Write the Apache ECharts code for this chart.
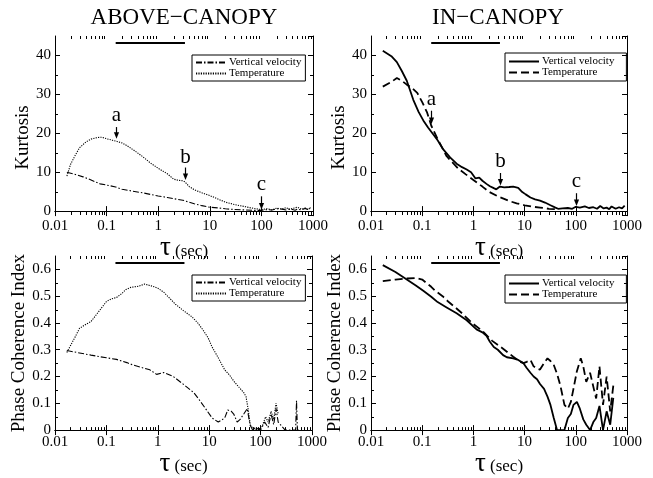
<!DOCTYPE html>
<html><head><meta charset="utf-8">
<script src="https://cdn.jsdelivr.net/npm/echarts@6/dist/echarts.min.js"></script>
<style>html,body{margin:0;padding:0;background:#fff}#c{width:653px;height:478px}</style>
</head><body><div id="c"></div><script>
// ---------- DATA ----------
const PANEL_TITLES = ['ABOVE\u2212CANOPY', 'IN\u2212CANOPY'];
const Y_NAMES = ['Kurtosis', 'Kurtosis', 'Phase Coherence Index', 'Phase Coherence Index'];
const LEGEND_LABELS = ['Vertical velocity', 'Temperature'];
const ANN_LABELS = ['a', 'b', 'c'];

// Above-canopy kurtosis
const AK_VV_TAU = [0.017,0.025,0.035,0.05,0.075,0.1,0.15,0.2,0.3,0.5,0.7,1,1.5,2,3,4,5,7,10,15,20,30,50,70,100,130,160,200,250,300,350,400,450,500,600,700,800,900];
const AK_VV = [10,9.4,8.8,8.0,7.0,6.7,6.2,5.6,5.2,4.7,4.3,3.9,3.5,3.2,2.8,2.3,1.9,1.4,1.0,0.8,0.6,0.4,0.3,0.2,0.2,0.4,0.3,0.6,0.5,0.3,0.6,0.4,0.2,0.5,0.3,0.7,0.4,0.9];
const AK_T_TAU = [0.017,0.02,0.025,0.03,0.04,0.05,0.065,0.08,0.1,0.13,0.15,0.2,0.25,0.35,0.5,0.7,1,1.5,2,2.5,3,3.3,4,5,7,10,15,20,30,50,70,100,130,160,200,250,300,350,400,500,600,700,800,900];
const AK_T = [9,12,14.5,16.3,17.8,18.5,18.9,19.0,18.6,18.2,18.0,17.5,16.8,15.5,14.0,12.4,11.0,9.6,8.2,7.9,7.8,7.5,6.3,5.5,4.7,4.0,3.0,2.3,1.7,1.1,0.7,0.4,0.6,0.3,0.8,0.5,0.9,0.4,0.7,1.0,0.5,0.8,0.4,0.9];

// In-canopy kurtosis
const IK_VV_TAU = [0.017,0.025,0.032,0.04,0.05,0.067,0.085,0.105,0.13,0.165,0.2,0.26,0.35,0.47,0.6,0.74,0.9,1.1,1.3,1.5,1.8,2.1,2.5,2.8,3.3,4,5,6,7.5,9,10.5,13,16,20,25,32,40,45,55,70,85,100,120,150,180,220,260,300,350,400,450,500,600,700,800,900];
const IK_VV = [41.2,39.8,38.3,36,33.5,28.6,25.5,23.3,21.5,19.7,18.2,15.8,13.8,12.2,11.3,10.7,10.0,8.4,8.6,7.8,7.0,6.4,5.9,5.6,6.3,6.1,6.2,6.3,6.0,4.9,4.3,3.5,3.0,2.7,2.2,1.5,0.9,0.6,0.7,0.8,0.6,1.1,0.9,1.2,0.8,1.0,0.6,1.3,0.7,0.9,0.5,1.2,0.6,1.0,0.7,1.4];
const IK_T_TAU = [0.017,0.025,0.032,0.04,0.05,0.065,0.08,0.1,0.125,0.15,0.2,0.3,0.5,0.7,1,1.5,2,3,5,7,10,15,20,30,40];
const IK_T = [32,33.2,34.2,33.5,32.5,31.5,30.4,28,25.3,22,18.5,14.1,11.0,9.5,8.0,6.3,5.0,3.8,2.6,2.0,1.5,1.1,0.9,0.6,0.5];

// Above-canopy phase coherence index
const AP_VV_TAU = [0.017,0.03,0.05,0.075,0.1,0.157,0.25,0.33,0.5,0.7,0.95,1.3,2,3.2,5,6.3,8.5,11.4,15,20,23,27,30,35,40,47,55,62,70,80,100,120,140,160,180,200,220,300,400,480,500,520,550];
const AP_VV = [0.297,0.288,0.28,0.274,0.27,0.264,0.252,0.243,0.233,0.225,0.208,0.215,0.2,0.17,0.14,0.115,0.08,0.045,0.03,0.045,0.075,0.07,0.06,0.03,0.04,0.06,0.08,0.02,0,0.01,0,0.03,0.01,0.06,0.02,0.08,0.03,0,0,0,0.11,0,0];
const AP_T_TAU = [0.017,0.025,0.03,0.04,0.05,0.074,0.1,0.125,0.157,0.2,0.24,0.3,0.42,0.55,0.7,0.85,1,1.3,1.65,2.2,3.1,4.6,6,7.5,9.5,11.4,15,20,25,30,38,47,52,57,63,75,90,110,125,140,160,180,200,220];
const AP_T = [0.29,0.35,0.38,0.395,0.405,0.447,0.48,0.49,0.495,0.51,0.525,0.533,0.537,0.545,0.54,0.535,0.53,0.515,0.495,0.47,0.447,0.423,0.4,0.375,0.345,0.31,0.27,0.225,0.205,0.183,0.16,0.14,0.125,0.08,0.02,0,0,0.02,0.05,0.03,0.07,0.04,0.1,0.06];

// In-canopy phase coherence index
const IP_VV_TAU = [0.017,0.03,0.05,0.075,0.105,0.15,0.2,0.3,0.47,0.74,1.15,1.5,1.8,2.1,2.5,3,3.8,4.5,6,7.5,9.5,11,13,15,17.5,20,24,28,32,37,43,50,60,70,80,90,105,120,140,160,190,220,250,290,340,400,470,540];
const IP_VV = [0.616,0.59,0.562,0.54,0.52,0.498,0.478,0.458,0.436,0.41,0.376,0.365,0.352,0.33,0.31,0.3,0.28,0.272,0.268,0.262,0.25,0.232,0.214,0.2,0.19,0.172,0.154,0.125,0.094,0.046,0,0,0,0.045,0.06,0.094,0.105,0.08,0.04,0.02,0,0.03,0.045,0.09,0,0.07,0.02,0.12];
const IP_T_TAU = [0.017,0.03,0.05,0.075,0.1,0.12,0.15,0.18,0.25,0.33,0.45,0.6,0.94,1.5,2.3,3.8,6,8,9.5,11,13,15,17.5,20,24,28,32,37,43,50,60,70,80,90,105,125,140,160,190,225,250,290,340,400,470,540];
const IP_T = [0.556,0.562,0.566,0.568,0.562,0.55,0.535,0.52,0.5,0.478,0.457,0.436,0.4,0.37,0.334,0.304,0.274,0.256,0.25,0.255,0.262,0.238,0.23,0.226,0.25,0.268,0.258,0.244,0.21,0.166,0.094,0.08,0.105,0.154,0.22,0.268,0.238,0.18,0.214,0.154,0.118,0.238,0.094,0.2,0.07,0.166];

// horizontal reference bar (tau range) and its height per row
const BAR_TAU = [0.15, 3.3];
const BAR_Y_KURT = 43.2;
const BAR_Y_PCI = 0.624;

// annotations: [tau, arrow tip, arrow tail, label position]
const AK_ANN = [[0.15,18.6,21.6,24.6],[3.3,8.0,11.2,13.9],[100,0.4,3.8,6.8]];
const IK_ANN = [[0.15,22.4,25.8,28.8],[3.3,6.6,9.8,12.8],[100,1.3,4.6,7.6]];

// axis ranges
const X_MIN = 0.01, X_MAX = 1000;
const Y_KURT = {min: -1, max: 45};
const Y_PCI = {min: 0, max: 0.65, interval: 0.1};
const Y_MINOR_KURT = [5,15,25,35];
const Y_MINOR_PCI = [0.05,0.15,0.25,0.35,0.45,0.55];
const X_MINOR = [];
[0.01,0.1,1,10,100].forEach(d => { for (let m = 2; m <= 9; m++) X_MINOR.push(+(m*d).toPrecision(3)); });

// ---------- CHART ----------
const FONT = 'Liberation Serif';
const BLACK = '#000';
const grids = [
  {left: 55, top: 36, width: 258, height: 179},
  {left: 371, top: 36, width: 256, height: 179},
  {left: 55, top: 256, width: 257, height: 180},
  {left: 371, top: 256, width: 256, height: 180}
];
const yRanges = [Y_KURT, Y_KURT, Y_PCI, Y_PCI];
const yMinors = [Y_MINOR_KURT, Y_MINOR_KURT, Y_MINOR_PCI, Y_MINOR_PCI];

const pair = (xs, ys) => xs.map((x, i) => [x, ys[i]]);
const xAxis = [], yAxis = [];
for (let i = 0; i < 4; i++) {
  const line = {show: true, lineStyle: {color: BLACK, width: 1}};
  xAxis.push({
    gridIndex: i, type: 'log', logBase: 10, min: X_MIN, max: X_MAX, position: 'bottom',
    axisLine: line, axisTick: {inside: true, length: 5, lineStyle: {color: BLACK}},
    minorTick: {show: false}, splitLine: {show: false},
    axisLabel: {color: BLACK, fontFamily: FONT, fontSize: 15, margin: 4,
      formatter: v => String(+(+v).toPrecision(3))},
    name: '{t|\u03c4}{s| (sec)}', nameLocation: 'middle', nameGap: 14,
    nameTextStyle: {rich: {
      t: {fontFamily: FONT, fontSize: 27, color: BLACK, verticalAlign: 'bottom'},
      s: {fontFamily: FONT, fontSize: 17, color: BLACK, verticalAlign: 'bottom', padding: [0,0,2,0]}
    }}
  });
  xAxis.push({
    gridIndex: i, type: 'log', logBase: 10, min: X_MIN, max: X_MAX, position: 'top',
    axisLine: line, axisTick: {inside: true, length: 5, lineStyle: {color: BLACK}},
    axisLabel: {show: false}, splitLine: {show: false}, minorTick: {show: false}
  });
  yAxis.push(Object.assign({
    gridIndex: i, type: 'value', position: 'left',
    axisLine: line, axisTick: {inside: true, length: 5, lineStyle: {color: BLACK}},
    splitLine: {show: false},
    axisLabel: {color: BLACK, fontFamily: FONT, fontSize: 15, margin: 4, showMinLabel: i >= 2, showMaxLabel: false},
    name: Y_NAMES[i], nameLocation: 'middle', nameGap: i < 2 ? 21 : 22,
    nameTextStyle: {fontFamily: FONT, fontSize: 19, color: BLACK, padding: i < 2 ? [0, 24, 0, 0] : [0, 0, 0, 0]}
  }, yRanges[i]));
  yAxis.push(Object.assign({
    gridIndex: i, type: 'value', position: 'right',
    axisLine: line, axisTick: {inside: true, length: 5, lineStyle: {color: BLACK}},
    splitLine: {show: false}, axisLabel: {show: false}
  }, yRanges[i]));
}

function lineSeries(i, name, data, style) {
  return {type: 'line', name: name, xAxisIndex: 2*i, yAxisIndex: 2*i, data: data,
    symbol: 'none', showSymbol: false, silent: true, z: 3,
    lineStyle: Object.assign({color: BLACK}, style), itemStyle: {color: BLACK}};
}
const DASHDOT = {width: 1.1, type: [6, 2, 1.5, 2]};
const DOTTED = {width: 1.1, type: [1.2, 1.2]};
const SOLID = {width: 1.8, type: 'solid'};
const DASHED = {width: 1.8, type: [8, 4]};

const NAMES = [
  ['Vertical velocity', 'Temperature'],
  ['Vertical velocity (in)', 'Temperature (in)'],
  ['Vertical velocity', 'Temperature'],
  ['Vertical velocity (in)', 'Temperature (in)']
];

function minorTicks(i, values, axis) {
  const yr = yRanges[i];
  return {type: 'custom', xAxisIndex: 2*i, yAxisIndex: 2*i, silent: true, z: 6,
    data: values.map(v => axis === 'x' ? [v, yr.min] : [X_MIN, v]),
    renderItem: function (params, api) {
      const cs = params.coordSys;
      const p = api.coord([api.value(0), api.value(1)]);
      const st = {stroke: BLACK, lineWidth: 1};
      if (axis === 'x') {
        const x = Math.round(p[0]) + 0.5;
        return {type: 'group', children: [
          {type: 'line', shape: {x1: x, y1: cs.y + cs.height, x2: x, y2: cs.y + cs.height - 3}, style: st},
          {type: 'line', shape: {x1: x, y1: cs.y, x2: x, y2: cs.y + 3}, style: st}
        ]};
      }
      const y = Math.round(p[1]) + 0.5;
      return {type: 'group', children: [
        {type: 'line', shape: {x1: cs.x, y1: y, x2: cs.x + 3, y2: y}, style: st},
        {type: 'line', shape: {x1: cs.x + cs.width, y1: y, x2: cs.x + cs.width - 3, y2: y}, style: st}
      ]};
    }};
}

function annotations(i, rows) {
  return {type: 'custom', xAxisIndex: 2*i, yAxisIndex: 2*i, silent: true, z: 8, data: rows,
    renderItem: function (params, api) {
      const tau = api.value(0);
      const tip = api.coord([tau, api.value(1)]);
      const tail = api.coord([tau, api.value(2)]);
      const lab = api.coord([tau, api.value(3)]);
      const x = Math.round(tip[0]) + 0.5;
      return {type: 'group', children: [
        {type: 'line', shape: {x1: x, y1: tail[1], x2: x, y2: tip[1] - 5}, style: {stroke: BLACK, lineWidth: 1.2}},
        {type: 'polygon', shape: {points: [[x - 2.6, tip[1] - 6.5], [x + 2.6, tip[1] - 6.5], [x, tip[1]]]}, style: {fill: BLACK}},
        {type: 'text', x: x, y: lab[1], style: {text: ANN_LABELS[params.dataIndex], font: '21px "Liberation Serif"',
          fill: BLACK, align: 'center', verticalAlign: 'middle'}}
      ]};
    }};
}

function bar(i, yv) {
  return {type: 'line', xAxisIndex: 2*i, yAxisIndex: 2*i, data: BAR_TAU.map(t => [t, yv]),
    symbol: 'none', silent: true, z: 4, lineStyle: {color: BLACK, width: 2}};
}

const series = [
  lineSeries(0, NAMES[0][0], pair(AK_VV_TAU, AK_VV), DASHDOT),
  lineSeries(0, NAMES[0][1], pair(AK_T_TAU, AK_T), DOTTED),
  lineSeries(1, NAMES[1][0], pair(IK_VV_TAU, IK_VV), SOLID),
  lineSeries(1, NAMES[1][1], pair(IK_T_TAU, IK_T), DASHED),
  lineSeries(2, NAMES[2][0], pair(AP_VV_TAU, AP_VV), DASHDOT),
  lineSeries(2, NAMES[2][1], pair(AP_T_TAU, AP_T), DOTTED),
  lineSeries(3, NAMES[3][0], pair(IP_VV_TAU, IP_VV), SOLID),
  lineSeries(3, NAMES[3][1], pair(IP_T_TAU, IP_T), DASHED),
  bar(0, BAR_Y_KURT), bar(1, BAR_Y_KURT), bar(2, BAR_Y_PCI), bar(3, BAR_Y_PCI),
  annotations(0, AK_ANN), annotations(1, IK_ANN)
];
for (let i = 0; i < 4; i++) {
  series.push(minorTicks(i, X_MINOR, 'x'));
  series.push(minorTicks(i, yMinors[i], 'y'));
}

const legendPos = [[192, 55, [2, 4, 2, 3]], [505, 53, [3, 12, 3, 3]], [192, 275, [2, 4, 2, 3]], [505, 275, [3, 12, 3, 3]]];
const legend = legendPos.map((p, i) => ({
  left: p[0], top: p[1], orient: 'vertical', data: NAMES[i], selectedMode: false,
  borderColor: BLACK, borderWidth: 1, borderRadius: 0, padding: p[2], itemGap: 0,
  itemWidth: 30, itemHeight: 9,
  itemStyle: {color: 'rgba(0,0,0,0)', borderColor: 'rgba(0,0,0,0)', borderWidth: 0, opacity: 0},
  formatter: n => n.replace(' (in)', ''),
  textStyle: {fontFamily: FONT, fontSize: 11, color: BLACK, lineHeight: 11, padding: [0, 0, 0, -2]}
}));

const graphic = [
  {type: 'text', x: 184, y: 18, style: {text: PANEL_TITLES[0], font: '23px "Liberation Serif"', fill: BLACK, align: 'center', verticalAlign: 'middle'}},
  {type: 'text', x: 498, y: 18, style: {text: PANEL_TITLES[1], font: '23px "Liberation Serif"', fill: BLACK, align: 'center', verticalAlign: 'middle'}}
];

const chart = echarts.init(document.getElementById('c'), null, {renderer: 'canvas'});
chart.setOption({
  animation: false, backgroundColor: '#fff',
  grid: grids, xAxis: xAxis, yAxis: yAxis, series: series, legend: legend, graphic: graphic
});
</script></body></html>
